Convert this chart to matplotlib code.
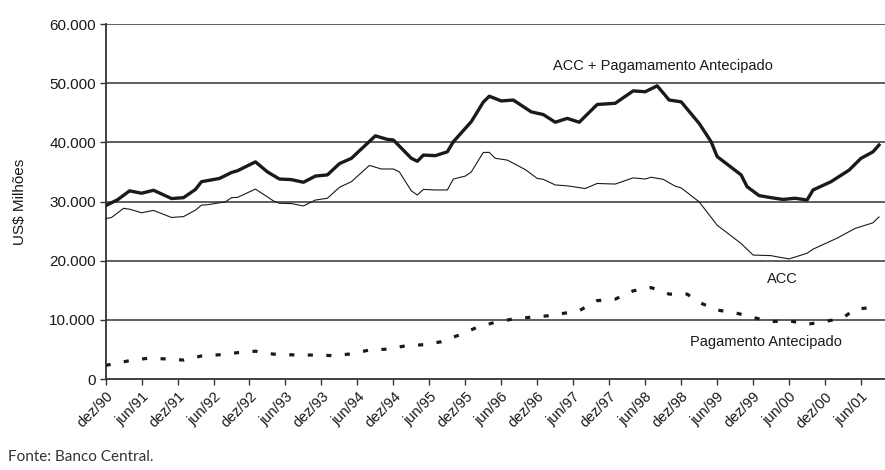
import matplotlib
matplotlib.use("Agg")
import matplotlib.pyplot as plt
from matplotlib.ticker import FuncFormatter

# ====== DATA (month index 0 = dez/90) ======
total_months = [0, 2, 4, 6, 8, 11, 13, 15, 16, 19, 21, 22, 25, 27, 29, 31, 33, 35, 37, 39,
                41, 45, 47, 48, 51, 52, 53, 55, 57, 58, 61, 63, 64, 66, 68, 71, 73, 75, 77, 79,
                82, 85, 88, 90, 92, 94, 96, 99, 101, 102, 106, 107, 109, 111, 113, 115, 117, 118,
                121, 124, 126, 128, 129]
total_vals = [29300, 30300, 31800, 31400, 31900, 30500, 30650, 32050, 33350, 33900, 34900, 35200,
              36700, 35000, 33800, 33700, 33250, 34300, 34500, 36400, 37300, 41100, 40500, 40400,
              37300, 36800, 37850, 37750, 38400, 40100, 43500, 46800, 47800, 47000, 47150, 45150,
              44700, 43400, 44050, 43400, 46400, 46600, 48700, 48550, 49550, 47150, 46850, 43200,
              40100, 37600, 34500, 32500, 31000, 30650, 30350, 30550, 30250, 31950, 33350, 35300,
              37300, 38400, 39550]

acc_months = [0, 1, 3, 4, 6, 8, 11, 13, 15, 16, 17, 20, 21, 22, 25, 28, 29, 31, 33, 35, 37, 39,
              41, 44, 46, 48, 49, 51, 52, 53, 55, 57, 58, 60, 61, 63, 64, 65, 67, 70, 72, 73, 75,
              77, 80, 82, 85, 88, 90, 91, 93, 95, 96, 99, 102, 106, 108, 111, 112, 114, 117, 118,
              122, 125, 128, 129]
acc_vals = [27100, 27300, 28850, 28700, 28100, 28500, 27300, 27450, 28550, 29400, 29450, 29950,
            30650, 30700, 32100, 30100, 29700, 29650, 29250, 30250, 30550, 32400, 33350, 36100,
            35500, 35500, 35000, 31800, 31100, 32050, 31950, 31950, 33800, 34300, 35000, 38300,
            38300, 37300, 37000, 35400, 33900, 33750, 32800, 32650, 32200, 33050, 32950, 34000,
            33800, 34100, 33750, 32600, 32300, 29950, 26000, 22900, 20950, 20850, 20650, 20300,
            21250, 21950, 23800, 25450, 26400, 27400]

pa_months = [0, 4, 7, 10, 13, 16, 19, 22, 25, 28, 32, 35, 38, 41, 44, 47, 50, 53, 56, 59, 62,
             65, 68, 71, 74, 77, 79, 82, 85, 88, 91, 94, 97, 99, 102, 105, 108, 111, 114, 117,
             120, 123, 125, 129]
pa_vals = [2300, 3100, 3500, 3400, 3200, 3900, 4100, 4450, 4700, 4200, 4050, 4050, 3950, 4250,
           4900, 5050, 5600, 5800, 6300, 7450, 8750, 9600, 10150, 10450, 10700, 11200, 11550,
           13250, 13500, 14900, 15450, 14350, 14350, 12950, 11650, 11200, 10400, 9700, 9850,
           9250, 9700, 10350, 11800, 12200]

tick_labels = ["dez/90", "jun/91", "dez/91", "jun/92", "dez/92", "jun/93", "dez/93", "jun/94",
               "dez/94", "jun/95", "dez/95", "jun/96", "dez/96", "jun/97", "dez/97", "jun/98",
               "dez/98", "jun/99", "dez/99", "jun/00", "dez/00", "jun/01"]
y_ticks = [0, 10000, 20000, 30000, 40000, 50000, 60000]

# ====== FIGURE ======
plt.rcParams['font.family'] = ['Liberation Sans', 'DejaVu Sans']
ink = '#1a1a1a'

fig = plt.figure(figsize=(8.85, 4.70), dpi=100)
ax = fig.add_axes([0.1193, 0.1936, 0.8807, 0.7553])

for v in y_ticks[1:]:
    ax.axhline(v, color='#333333', linewidth=1.1, zorder=1)

ax.plot(total_months, total_vals, color=ink, linewidth=2.4, zorder=3)
ax.plot(acc_months, acc_vals, color=ink, linewidth=0.8, zorder=3)
ax.plot(pa_months, pa_vals, color=ink, linewidth=2.3, linestyle=(0, (1.6, 4.2)), zorder=3)

ax.set_xlim(0, 130)
ax.set_ylim(0, 60000)
ax.set_yticks(y_ticks)
ax.yaxis.set_major_formatter(FuncFormatter(lambda v, p: f"{int(v):,}".replace(",", ".")))
ax.set_xticks(range(0, 6 * len(tick_labels), 6))
ax.set_xticklabels(tick_labels, rotation=45, ha='right', rotation_mode='anchor')

for s in ['top', 'right']:
    ax.spines[s].set_visible(False)
for s in ['left', 'bottom']:
    ax.spines[s].set_color('#333333')
    ax.spines[s].set_linewidth(1.3)
ax.tick_params(axis='both', colors='#333333', width=1.0, length=4, labelsize=10.5,
               labelcolor=ink)
ax.tick_params(axis='y', labelsize=11, pad=3)

ax.set_ylabel("US$ Milhões", fontsize=11, color=ink, labelpad=16)

ax.text(93, 52300, "ACC + Pagamamento Antecipado", fontsize=10.5, color=ink, ha='center')
ax.text(112.8, 16300, "ACC", fontsize=10.5, color=ink, ha='center')
ax.text(110.2, 5500, "Pagamento Antecipado", fontsize=10.5, color=ink, ha='center')

fig.text(0.009, 0.02, "Fonte: Banco Central.", fontsize=11, color='#333333',
         family=['Lato', 'DejaVu Sans'])

fig.savefig("out.png", dpi=100)
